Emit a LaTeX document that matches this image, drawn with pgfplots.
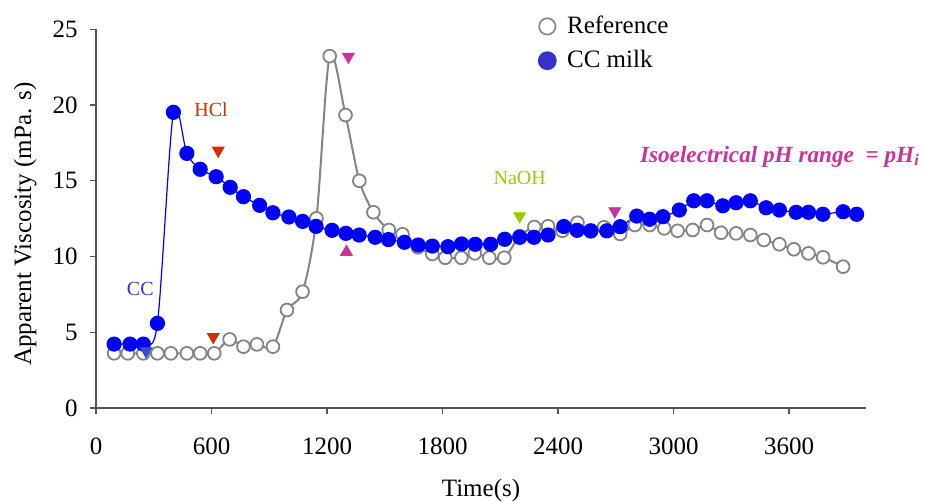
\documentclass[border=0pt]{standalone}
\usepackage{fontspec}
\setmainfont{Liberation Serif}
\usepackage{pgfplots}
\pgfplotsset{compat=1.18}
\definecolor{refgray}{HTML}{848484}
\definecolor{ccblue}{HTML}{0000FF}
\definecolor{legblue}{HTML}{3333CC}
\definecolor{hclred}{HTML}{CC3300}
\definecolor{naohgreen}{HTML}{99CC00}
\definecolor{isomag}{HTML}{CC3399}
\definecolor{ccmark}{HTML}{3F48CC}
\definecolor{axgray}{HTML}{555555}
\begin{document}
\begin{tikzpicture}
\begin{axis}[
  scale only axis, width=385pt, height=189.35pt,
  xmin=0, xmax=4000, ymin=0, ymax=25,
  axis lines*=left, tick pos=left,
  axis line style={axgray, line width=0.6pt},
  xtick={0,600,...,3600}, ytick={0,5,...,25},
  tick align=outside, major tick length=3pt,
  tick style={axgray, line width=0.6pt},
  /pgf/number format/assume math mode=true,
  /pgf/number format/set thousands separator={},
  ticklabel style={font=\fontsize{12.5}{15}\selectfont},
  xticklabel style={yshift=-8.5pt},
  yticklabel style={xshift=-2.7pt},
  clip=false,
  legend style={draw=none, fill=none, at={(axis description cs:0.563,1.057)}, anchor=north west,
    font=\fontsize{12.5}{15}\selectfont, row sep=2.9pt},
  legend cell align=left,
  legend image code/.code={\path[draw=none, fill=none] (0,0) -- (13.6pt,0); \draw[#1] plot coordinates {(0.2cm,0cm)};},
]
\addlegendimage{only marks, mark=*, mark size=4.1pt, mark options={fill=white, draw=refgray, line width=0.8pt}}
\addlegendentry{Reference}
\addlegendimage{only marks, mark=*, mark size=4.5pt, mark options={fill=legblue, draw=legblue}}
\addlegendentry{CC milk}

% Reference series
\addplot[refgray, line width=1pt, smooth, tension=0.5, mark=*, mark size=3.2pt,
  mark options={fill=white, draw=refgray, line width=0.9pt}, forget plot] coordinates {
(94,3.61) (165,3.61) (246,3.61) (319,3.61) (389,3.61) (472,3.61) (541,3.61) (614,3.61)
(694,4.53) (766,4.05) (836,4.20) (919,4.05) (992,6.47) (1073,7.68) (1145,12.52)
(1214,23.23) (1296,19.34) (1368,15.00) (1441,12.92) (1521,11.75) (1592,11.47)
(1672,10.61) (1747,10.17) (1814,9.92) (1898,9.92) (1968,10.21) (2043,9.92) (2121,9.92)
(2201,11.35) (2277,11.95) (2348,12.00) (2423,11.70) (2501,12.23) (2570,11.65)
(2639,11.93) (2723,11.49) (2799,12.08) (2876,12.08) (2952,11.86) (3021,11.70)
(3099,11.75) (3174,12.08) (3247,11.57) (3325,11.53) (3399,11.42) (3469,11.09)
(3550,10.81) (3625,10.48) (3701,10.21) (3777,9.95) (3881,9.33)
};

% CC milk series
\addplot[ccblue, line width=0.6pt, smooth, tension=0.5, mark=*, mark size=3.5pt,
  mark options={fill=ccblue, draw=ccblue}, forget plot] coordinates {
(94,4.22) (177,4.22) (246,4.22) (319,5.59) (402,19.52) (472,16.81) (541,15.76)
(624,15.27) (697,14.57) (766,13.95) (850,13.38) (919,12.89) (1002,12.61) (1073,12.32)
(1143,11.99) (1226,11.73) (1298,11.53) (1367,11.42) (1450,11.27) (1519,11.12)
(1602,10.94) (1674,10.76) (1747,10.69) (1828,10.65) (1899,10.83) (1970,10.81)
(2050,10.81) (2123,11.14) (2201,11.27) (2275,11.27) (2348,11.42) (2430,11.98)
(2499,11.73) (2570,11.70) (2653,11.70) (2723,11.97) (2809,12.67) (2876,12.46)
(2945,12.63) (3030,13.07) (3105,13.68) (3174,13.68) (3256,13.35) (3325,13.55)
(3399,13.68) (3481,13.22) (3550,13.07) (3637,12.92) (3701,12.92) (3776,12.79)
(3881,12.96) (3951,12.79)
};

% Event markers
\addplot[only marks, mark=triangle*, mark size=3.4pt, mark options={rotate=180, fill=ccmark, draw=ccmark}, forget plot]
  coordinates {(260,3.76)};
\addplot[only marks, mark=triangle*, mark size=3.4pt, mark options={rotate=180, fill=hclred, draw=hclred}, forget plot]
  coordinates {(635,17.0) (609,4.7)};
\addplot[only marks, mark=triangle*, mark size=3.4pt, mark options={rotate=180, fill=isomag, draw=isomag}, forget plot]
  coordinates {(1311,23.2) (2695,13.0)};
\addplot[only marks, mark=triangle*, mark size=3.4pt, mark options={fill=isomag, draw=isomag}, forget plot]
  coordinates {(1301,10.3)};
\addplot[only marks, mark=triangle*, mark size=3.4pt, mark options={rotate=180, fill=naohgreen, draw=naohgreen}, forget plot]
  coordinates {(2201,12.67)};

\node[inner sep=0pt, text=legblue, font=\fontsize{10}{12}\selectfont] at (axis cs:230,7.85) {CC};
\node[inner sep=0pt, text=hclred, font=\fontsize{10}{12}\selectfont] at (axis cs:598,19.7) {HCl};
\node[inner sep=0pt, text=naohgreen, font=\fontsize{10}{12}\selectfont] at (axis cs:2201,15.2) {NaOH};
\node[inner sep=0pt, anchor=west, text=isomag, font=\fontsize{11.6}{14}\selectfont\bfseries\itshape]
  at (axis cs:2824,16.6) {Isoelectrical pH range\ \ = pH\textsubscript{i}};

\node[inner sep=0pt, rotate=90, font=\fontsize{12.5}{15}\selectfont] at (axis description cs:-0.0922,0.486) {Apparent Viscosity (mPa. s)};
\node[inner sep=0pt, font=\fontsize{12.5}{15}\selectfont] at (axis description cs:0.5,-0.2165) {Time(s)};

\coordinate (bbll) at (rel axis cs:-0.1247,-0.2456);
\coordinate (bbur) at (rel axis cs:1.0779,1.0774);
\end{axis}
\path (bbll) rectangle (bbur);
\end{tikzpicture}
\end{document}
